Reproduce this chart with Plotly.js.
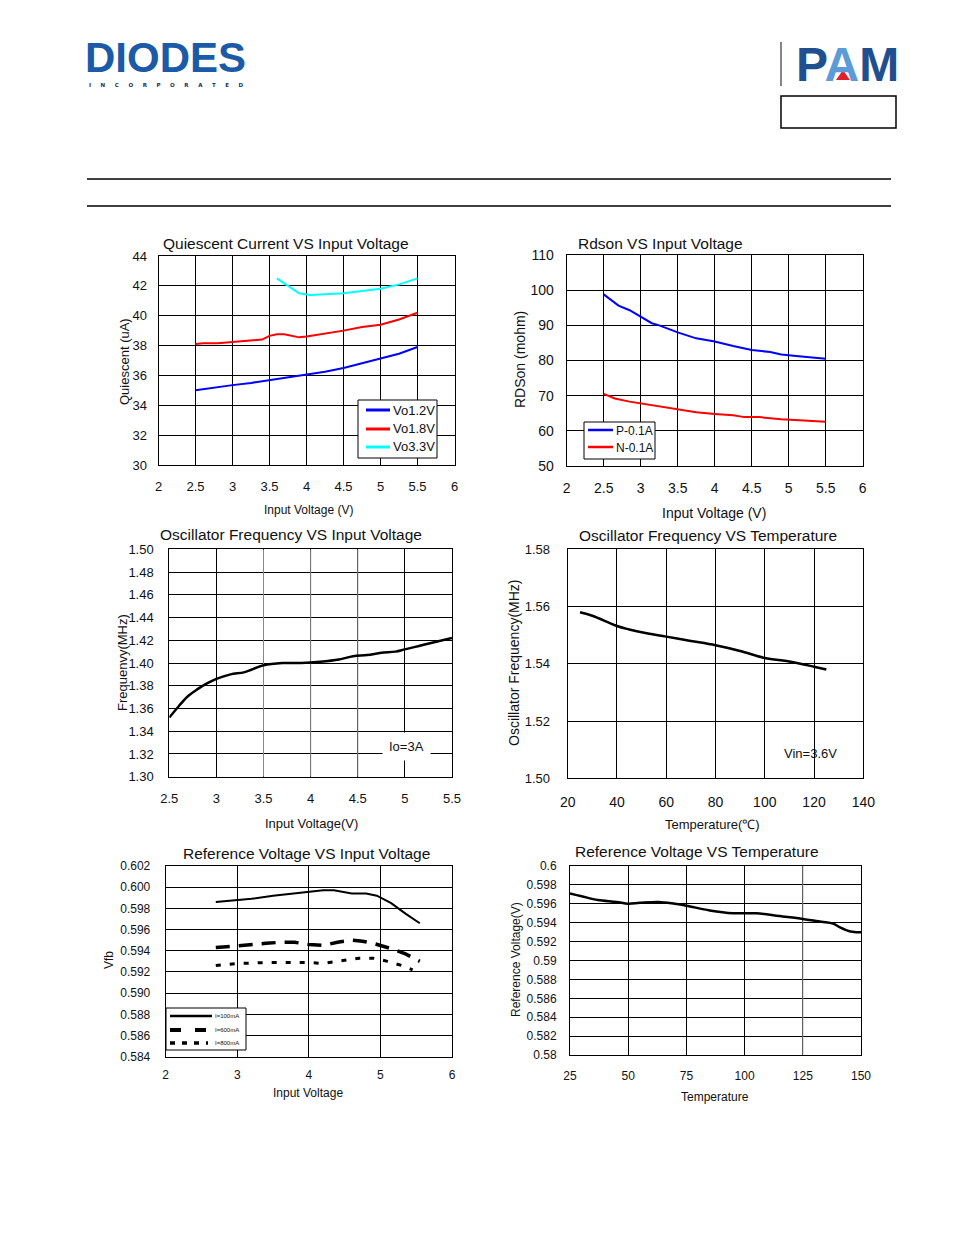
<!DOCTYPE html>
<html><head><meta charset="utf-8">
<script src="https://cdn.plot.ly/plotly-3.0.1.min.js"></script>
<style>body{margin:0;background:#fff}#c{width:954px;height:1235px}</style>
</head><body><div id="c"></div><script>
// ---------- data ----------
const qVin12 = [2.5,2.75,3,3.25,3.5,3.75,4,4.25,4.5,4.75,5,5.25,5.5];
const qVo12  = [35.0,35.2,35.35,35.5,35.7,35.85,36.05,36.25,36.5,36.8,37.1,37.45,37.9];
const qVin18 = [2.5,2.6,2.8,3,3.2,3.4,3.5,3.6,3.7,3.9,4,4.25,4.5,4.75,5,5.25,5.5];
const qVo18  = [38.1,38.15,38.15,38.25,38.3,38.4,38.65,38.75,38.75,38.55,38.6,38.8,39.0,39.25,39.4,39.75,40.2];
const qVin33 = [3.6,3.75,3.9,4.05,4.25,4.5,4.75,5,5.25,5.5];
const qVo33  = [42.5,42.0,41.5,41.38,41.42,41.5,41.65,41.8,42.1,42.5];

const rVinP = [2.5,2.6,2.7,2.85,3,3.15,3.25,3.5,3.75,4,4.25,4.5,4.75,4.9,5.1,5.3,5.5];
const rP    = [98.8,97.3,95.6,94.3,92.4,90.6,90.0,88.0,86.3,85.4,84.1,83.0,82.4,81.7,81.3,81.0,80.5];
const rVinN = [2.5,2.65,2.85,3,3.25,3.5,3.75,4,4.25,4.4,4.6,4.9,5.2,5.5];
const rN    = [70.5,69.2,68.3,67.8,66.8,66.0,65.3,64.8,64.4,63.9,63.9,63.3,63.0,62.6];

const oVin  = [2.5,2.6,2.7,2.8,2.9,3,3.15,3.3,3.5,3.7,3.9,4.1,4.3,4.45,4.6,4.75,4.9,5,5.15,5.3,5.5];
const oFreq = [1.352,1.362,1.371,1.377,1.382,1.386,1.390,1.392,1.398,1.400,1.400,1.401,1.403,1.406,1.407,1.409,1.410,1.412,1.415,1.418,1.422];

const tTemp = [25,30,40,45,50,60,70,80,90,100,110,120,125];
const tFreq = [1.558,1.5568,1.5532,1.552,1.551,1.5495,1.548,1.5465,1.5445,1.542,1.5408,1.539,1.538];

const vVin100 = [2.7,3,3.2,3.5,3.8,4,4.2,4.35,4.6,4.8,4.95,5.15,5.35,5.55];
const v100    = [0.5986,0.5988,0.5989,0.5992,0.5994,0.5996,0.5997,0.5997,0.5994,0.5994,0.5992,0.5985,0.5975,0.5966];
const vVin600 = [2.7,3,3.2,3.4,3.6,3.8,4,4.2,4.4,4.6,4.75,4.9,5.2,5.35,5.55];
const v600    = [0.5943,0.5945,0.5946,0.5947,0.5948,0.5948,0.5946,0.5945,0.5948,0.5950,0.5949,0.5947,0.5941,0.5937,0.5930];
const vVin800 = [2.7,3,3.5,4,4.2,4.5,4.7,4.9,5.1,5.3,5.45];
const v800    = [0.5926,0.5928,0.5929,0.5929,0.5928,0.5931,0.5933,0.5933,0.5930,0.5926,0.5922];

const rtTemp = [25,30,37,45,50,55,63,70,75,85,95,105,115,125,133,138,141,145,148,150];
const rtVolt = [0.5971,0.5968,0.5964,0.5962,0.5960,0.5961,0.5962,0.5960,0.5958,0.5953,0.5950,0.5950,0.5947,0.5944,0.5941,0.5939,0.5935,0.5931,0.5930,0.5930];

// tick labels
const vinTicks = [2,2.5,3,3.5,4,4.5,5,5.5,6];
const vinTickText = ['2','2.5','3','3.5','4','4.5','5','5.5','6'];
const qTicks = [30,32,34,36,38,40,42,44];
const rTicks = [50,60,70,80,90,100,110];
const oVinTicks = [2.5,3,3.5,4,4.5,5,5.5];
const oVinTickText = ['2.5','3','3.5','4','4.5','5','5.5'];
const oFreqTicks = [1.30,1.32,1.34,1.36,1.38,1.40,1.42,1.44,1.46,1.48,1.50];
const oFreqText = ['1.30','1.32','1.34','1.36','1.38','1.40','1.42','1.44','1.46','1.48','1.50'];
const tTempTicks = [20,40,60,80,100,120,140];
const tFreqTicks = [1.50,1.52,1.54,1.56,1.58];
const tFreqText = ['1.50','1.52','1.54','1.56','1.58'];
const vVinTicks = [2,3,4,5,6];
const vTicks = [0.584,0.586,0.588,0.590,0.592,0.594,0.596,0.598,0.600,0.602];
const vTickText = ['0.584','0.586','0.588','0.590','0.592','0.594','0.596','0.598','0.600','0.602'];
const rtTempTicks = [25,50,75,100,125,150];
const rtTicks = [0.58,0.582,0.584,0.586,0.588,0.59,0.592,0.594,0.596,0.598,0.6];
const rtTickText = ['0.58','0.582','0.584','0.586','0.588','0.59','0.592','0.594','0.596','0.598','0.6'];

// legend names
const qNames = ['Vo1.2V','Vo1.8V','Vo3.3V'];
const rNames = ['P-0.1A','N-0.1A'];
const vNames = ['I=100mA','I=600mA','I=800mA'];

// ---------- helpers ----------
const W = 954, H = 1235;
const F = 'Liberation Sans, Arial, sans-serif';
const TC = '#111';
function xa(a, b, range, vals, text, size, anchor, so) {
  return {domain:[a/W, b/W], range:range, tickmode:'array', tickvals:vals, ticktext:text,
    showgrid:true, gridcolor:'#000', gridwidth:1, showline:true, linecolor:'#000', linewidth:1,
    mirror:true, zeroline:false, ticks:'', tickfont:{family:F, size:size, color:TC},
    anchor:anchor, ticklabelstandoff:so, fixedrange:true};
}
function ya(a, b, range, vals, text, size, anchor, so) {
  return {domain:[1-b/H, 1-a/H], range:range, tickmode:'array', tickvals:vals, ticktext:text,
    showgrid:true, gridcolor:'#000', gridwidth:1, showline:true, linecolor:'#000', linewidth:1,
    mirror:true, zeroline:false, ticks:'', tickfont:{family:F, size:size, color:TC},
    anchor:anchor, ticklabelstandoff:so, fixedrange:true};
}
function ann(text, x, y, size, extra) {
  return Object.assign({text:text, xref:'paper', yref:'paper', x:x/W, y:1-y/H,
    xanchor:'center', yanchor:'middle', showarrow:false,
    font:{family:F, size:size, color:'#111'}}, extra || {});
}
function pline(x0, y0, x1, y1, w, c, dash) {
  const l = {color:c||'#000', width:w};
  if (dash) l.dash = dash;
  return {type:'line', xref:'paper', yref:'paper', x0:x0/W, y0:1-y0/H, x1:x1/W, y1:1-y1/H, line:l};
}
function prect(x0, y0, x1, y1) {
  return {type:'rect', xref:'paper', yref:'paper', x0:x0/W, x1:x1/W, y0:1-y1/H, y1:1-y0/H,
    line:{color:'#000', width:1}, fillcolor:'#fff', layer:'above'};
}
function lline(x0, y0, x1, y1, w, c, dash) {
  const s = pline(x0, y0, x1, y1, w, c, dash); s.layer = 'above'; return s;
}
function vgrid(xr, yr, x, y0, y1) {
  return {type:'line', xref:xr, yref:yr, x0:x, x1:x, y0:y0, y1:y1, layer:'between', line:{color:'#8a8a8a', width:1}};
}

// ---------- traces ----------
const traces = [
  {x:qVin12, y:qVo12, xaxis:'x', yaxis:'y', mode:'lines', name:qNames[0], line:{color:'#0000ff', width:2}},
  {x:qVin18, y:qVo18, xaxis:'x', yaxis:'y', mode:'lines', name:qNames[1], line:{color:'#ff0000', width:2}},
  {x:qVin33, y:qVo33, xaxis:'x', yaxis:'y', mode:'lines', name:qNames[2], line:{color:'#00ffff', width:2}},
  {x:rVinP, y:rP, xaxis:'x2', yaxis:'y2', mode:'lines', name:rNames[0], line:{color:'#0000ff', width:2}},
  {x:rVinN, y:rN, xaxis:'x2', yaxis:'y2', mode:'lines', name:rNames[1], line:{color:'#ff0000', width:2}},
  {x:oVin, y:oFreq, xaxis:'x3', yaxis:'y3', mode:'lines', line:{color:'#000', width:2.5, shape:'spline'}},
  {x:tTemp, y:tFreq, xaxis:'x4', yaxis:'y4', mode:'lines', line:{color:'#000', width:2.5, shape:'spline'}},
  {x:vVin100, y:v100, xaxis:'x5', yaxis:'y5', mode:'lines', name:vNames[0], line:{color:'#000', width:2}},
  {x:vVin600, y:v600, xaxis:'x5', yaxis:'y5', mode:'lines', name:vNames[1], line:{color:'#000', width:3.5, dash:'14px,9px'}},
  {x:vVin800, y:v800, xaxis:'x5', yaxis:'y5', mode:'lines', name:vNames[2], line:{color:'#000', width:3, dash:'5px,9px'}},
  {x:rtTemp, y:rtVolt, xaxis:'x6', yaxis:'y6', mode:'lines', line:{color:'#000', width:2.5, shape:'spline'}}
];

// ---------- layout ----------
const layout = {
  width:W, height:H, margin:{l:0, r:0, t:0, b:0}, paper_bgcolor:'#fff', plot_bgcolor:'#fff',
  font:{family:F, color:'#111'}, showlegend:false,
  xaxis:  xa(158.5, 454.5, [2,6], vinTicks, vinTickText, 13, 'y', 9),
  yaxis:  ya(256, 465, [30,44], qTicks, qTicks.map(String), 13, 'x', 8),
  xaxis2: xa(566.7, 862.7, [2,6], vinTicks, vinTickText, 14, 'y2', 9),
  yaxis2: ya(255, 466, [50,110], rTicks, rTicks.map(String), 14, 'x2', 9),
  xaxis3: xa(169.3, 452, [2.5,5.5], oVinTicks, oVinTickText, 13, 'y3', 10),
  yaxis3: ya(549.3, 776.7, [1.30,1.50], oFreqTicks, oFreqText, 13, 'x3', 12),
  xaxis4: xa(567.7, 863.3, [20,140], tTempTicks, tTempTicks.map(String), 14, 'y4', 11),
  yaxis4: ya(549.3, 778.3, [1.50,1.58], tFreqTicks, tFreqText, 13, 'x4', 14),
  xaxis5: xa(165.7, 452, [2,6], vVinTicks, vVinTicks.map(String), 12, 'y5', 7),
  yaxis5: ya(866, 1056.7, [0.584,0.602], vTicks, vTickText, 12, 'x5', 12),
  xaxis6: xa(570, 861, [25,150], rtTempTicks, rtTempTicks.map(String), 12, 'y6', 10),
  yaxis6: ya(866, 1055, [0.58,0.6], rtTicks, rtTickText, 12, 'x6', 10),
  shapes: [
    pline(87, 179, 891, 179, 1.5),
    pline(87, 206, 891, 206, 1.5),
    pline(781, 42, 781, 86, 1.2, '#333'),
    {type:'rect', xref:'paper', yref:'paper', x0:781/W, x1:896/W, y0:1-128/H, y1:1-96/H, line:{color:'#000', width:1.5}},
    {type:'path', xref:'paper', yref:'paper', path:'M '+(836/W)+' '+(1-80/H)+' L '+(850/W)+' '+(1-80/H)+' L '+(843/W)+' '+(1-70/H)+' Z',
      fillcolor:'#e0202a', line:{width:0}},
    // lighter grid lines
    vgrid('x3', 'y3', 3.5, 1.30, 1.50),
    vgrid('x3', 'y3', 4, 1.30, 1.50),
    vgrid('x3', 'y3', 4.5, 1.30, 1.50),
    vgrid('x6', 'y6', 125, 0.58, 0.6),
    // legend: quiescent
    prect(358, 400, 437, 458),
    lline(366, 410, 390, 410, 3, '#0000ff'),
    lline(366, 429, 390, 429, 3, '#ff0000'),
    lline(366, 447, 390, 447, 3, '#00ffff'),
    // legend: rdson
    prect(584, 422, 655, 459),
    lline(588, 430, 613, 430, 2.5, '#0000ff'),
    lline(588, 447, 613, 447, 2.5, '#ff0000'),
    // legend: reference voltage
    prect(166, 1008, 246, 1050),
    lline(170, 1016, 212, 1016, 2.5, '#000'),
    lline(170, 1030, 212, 1030, 4, '#000', '11px,14px'),
    lline(170, 1043, 208, 1043, 3.5, '#000', '5px,7px')
  ],
  annotations: [
    // header logos
    ann('<b>DIODES</b>', 165, 57, 42, {font:{family:'Liberation Sans, Arial', size:42, color:'#1b5aa6'}}),
    ann('<b>I     N     C     O     R     P     O     R     A     T     E     D</b>', 166, 85, 5.5, {font:{family:'DejaVu Sans', size:5.5, color:'#1c2f55'}}),
    ann('<b>P<span style="color:#5a9bd8">A</span>M</b>', 847, 65, 48, {font:{family:'Liberation Sans, Arial', size:48, color:'#1f4f8e'}}),
    // chart titles
    ann('Quiescent Current VS Input Voltage', 286, 243, 15.5),
    ann('Rdson VS Input Voltage', 660, 243, 15.5),
    ann('Oscillator Frequency VS Input Voltage', 291, 534, 15.5),
    ann('Oscillator Frequency VS Temperature', 708, 535, 15.5),
    ann('Reference Voltage VS Input Voltage', 306, 853, 15.5),
    ann('Reference Voltage VS Temperature', 697, 851, 15.5),
    // x titles
    ann('Input Voltage (V)', 308, 510, 12),
    ann('Input Voltage (V)', 714, 513, 14),
    ann('Input Voltage(V)', 311, 823, 13),
    ann('Temperature(℃)', 712, 824, 13),
    ann('Input Voltage', 308, 1093, 12),
    ann('Temperature', 715, 1097, 12),
    // y titles
    ann('Quiescent (uA)', 124, 361, 13, {textangle:-90}),
    ann('RDSon (mohm)', 520, 360, 14, {textangle:-90}),
    ann('Frequenvy(MHz)', 122, 663, 13, {textangle:-90}),
    ann('Oscillator Frequency(MHz)', 514, 663, 14, {textangle:-90}),
    ann('Vfb', 109, 960, 12, {textangle:-90}),
    ann('Reference Voltage(V)', 516, 960, 12, {textangle:-90}),
    // in-plot notes
    ann('Io=3A', 406, 746, 13, {bgcolor:'#fff', borderpad:6}),
    ann('Vin=3.6V', 810, 753, 13),
    // legend texts
    ann(qNames[0], 391, 410, 13, {xanchor:'left'}),
    ann(qNames[1], 391, 429, 13, {xanchor:'left'}),
    ann(qNames[2], 391, 447, 13, {xanchor:'left'}),
    ann(rNames[0], 614, 431, 12, {xanchor:'left'}),
    ann(rNames[1], 614, 448, 12, {xanchor:'left'}),
    ann(vNames[0], 213, 1016, 6, {xanchor:'left'}),
    ann(vNames[1], 213, 1030, 6, {xanchor:'left'}),
    ann(vNames[2], 213, 1043, 6, {xanchor:'left'})
  ]
};

Plotly.newPlot('c', traces, layout, {staticPlot:true, displayModeBar:false});
</script></body></html>
